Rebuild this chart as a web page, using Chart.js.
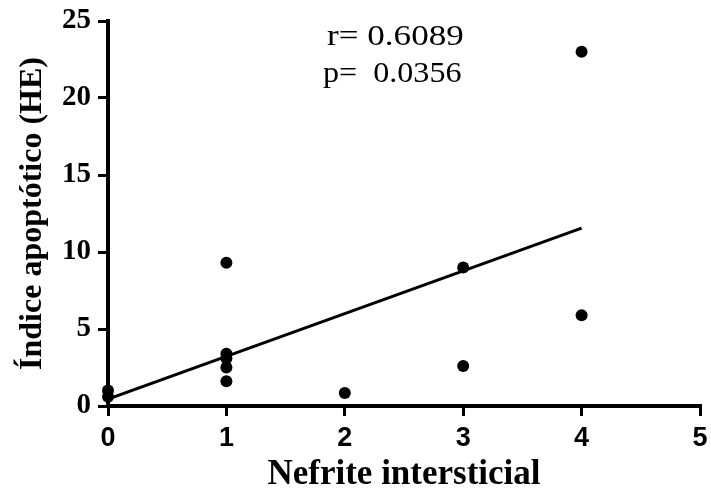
<!DOCTYPE html>
<html lang="pt">
<head>
<meta charset="UTF-8">
<title>Índice apoptótico x Nefrite intersticial</title>
<script src="https://cdn.jsdelivr.net/npm/chart.js"></script>
<style>
	html, body { margin: 0; padding: 0; background: #fff; }
</style>
</head>
<body>

<canvas id="scatterChart" width="711" height="496"></canvas>

<script>
// nefrite intersticial (escore) x indice apoptotico (HE)
const nefriteScore = [0, 0, 1, 1, 1, 1, 1, 2, 3, 3, 4, 4];
const indiceHE     = [1.0, 0.6, 9.3, 3.4, 3.1, 2.5, 1.6, 0.85, 9.0, 2.6, 23.0, 5.9];

// linha de regressao
const fitX = [0, 4];
const fitY = [0.45, 11.55];

const xTicks = [0, 1, 2, 3, 4, 5];
const yTicks = [0, 5, 10, 15, 20, 25];
const statsText = ['r= 0.6089', 'p=  0.0356'];

const serif = '"Liberation Serif", "Times New Roman", serif';
const sans = '"Liberation Sans", Arial, sans-serif';

// r / p text in the top of the plot (the figure stretches it sideways)
const statsPlugin = {
	id: 'stats',
	afterDraw(chart) {
		const ctx = chart.ctx;
		ctx.save();
		ctx.fillStyle = '#000';
		ctx.font = '30px ' + serif;
		ctx.textAlign = 'left';
		ctx.textBaseline = 'alphabetic';
		ctx.setTransform(1.17, 0, 0, 1, 327, 45);
		ctx.fillText(statsText[0], 0, 0);
		ctx.setTransform(1.07, 0, 0, 1, 323, 82);
		ctx.fillText(statsText[1], 0, 0);
		ctx.restore();
	}
};

const ctx = document.getElementById('scatterChart').getContext('2d');
const scatterChart = new Chart(ctx, {
	type: 'scatter',
	data: {
		datasets: [
			{
				data: nefriteScore.map((x, i) => ({ x: x, y: indiceHE[i] })),
				pointRadius: 6,
				pointBackgroundColor: '#000',
				pointBorderWidth: 0,
				clip: false
			},
			{
				data: fitX.map((x, i) => ({ x: x, y: fitY[i] })),
				showLine: true,
				borderColor: '#000',
				borderWidth: 3,
				pointRadius: 0,
				fill: false
			}
		]
	},
	options: {
		responsive: false,
		animation: false,
		layout: { padding: { left: 0, right: 11, top: 21, bottom: 0 } },
		plugins: {
			legend: { display: false },
			tooltip: { enabled: false }
		},
		scales: {
			x: {
				type: 'linear',
				min: 0,
				max: 5,
				afterFit: s => { s.height = 90; s.paddingLeft = 0; s.paddingRight = 0; },
				afterBuildTicks: s => { s.ticks = xTicks.map(v => ({ value: v })); },
				border: { color: '#000', width: 4 },
				grid: { drawOnChartArea: false, color: '#000', lineWidth: 3, tickLength: 10 },
				ticks: {
					color: '#000',
					padding: 6,
					font: { family: sans, size: 27, weight: 'bold' }
				},
				title: {
					display: true,
					text: 'Nefrite intersticial',
					color: '#000',
					font: { family: serif, size: 35, weight: 'bold', lineHeight: 1 },
					padding: { top: 0, bottom: 4 }
				}
			},
			y: {
				type: 'linear',
				min: 0,
				max: 25,
				afterFit: s => { s.width = 108; s.paddingTop = 0; s.paddingBottom = 0; },
				afterBuildTicks: s => { s.ticks = yTicks.map(v => ({ value: v })); },
				border: { color: '#000', width: 4 },
				grid: { drawOnChartArea: false, color: '#000', lineWidth: 3, tickLength: 10 },
				ticks: {
					color: '#000',
					padding: 7,
					font: { family: serif, size: 29, weight: 'bold' }
				},
				title: {
					display: true,
					text: 'Índice apoptótico (HE)',
					color: '#000',
					font: { family: serif, size: 32, weight: 'bold', lineHeight: 1 },
					padding: { top: 17, bottom: 0 }
				}
			}
		}
	},
	plugins: [statsPlugin]
});
</script>

</body>
</html>
